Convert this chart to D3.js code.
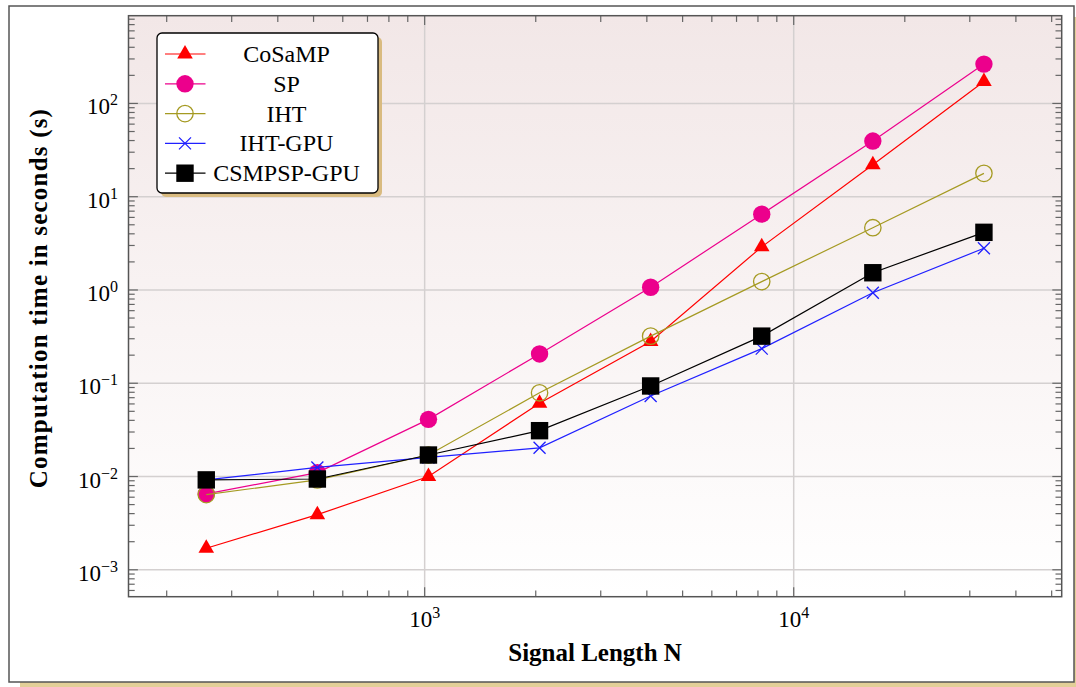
<!DOCTYPE html>
<html>
<head>
<meta charset="utf-8">
<script src="https://cdn.jsdelivr.net/npm/d3@7"></script>
<style>
  body { margin: 0; background: #fff; }
  svg { display: block; }
  text { font-family: "Liberation Serif", "DejaVu Serif", serif; fill: #000; }
</style>
</head>
<body>
<svg width="1076" height="687"></svg>
<script>
// Data
var signalLength = [256, 512, 1024, 2048, 4096, 8192, 16384, 32768];
var cosamp   = [1.7e-3, 3.9e-3, 1.0e-2, 0.061, 0.28, 2.9, 22, 172];
var sp       = [6.5e-3, 1.1e-2, 0.041, 0.206, 1.07, 6.5, 39.5, 264];
var iht      = [6.4e-3, 9.2e-3, 0.017, 0.079, 0.32, 1.23, 4.65, 17.8];
var ihtGpu   = [9.2e-3, 0.0125, 0.016, 0.0203, 0.073, 0.235, 0.935, 2.8];
var csmpspGpu = [9.2e-3, 9.4e-3, 0.017, 0.031, 0.0935, 0.32, 1.53, 4.15];

var seriesNames = ['CoSaMP', 'SP', 'IHT', 'IHT-GPU', 'CSMPSP-GPU'];
var seriesValues = [cosamp, sp, iht, ihtGpu, csmpspGpu];
var seriesColors = ['#ff0000', '#ec008c', '#a59a22', '#2020ff', '#000000'];
var seriesMarks = ['triangle', 'circle', 'ocircle', 'x', 'square'];

var xTickExp = [3, 4];
var yTickExp = [-3, -2, -1, 0, 1, 2];

const svg = d3.select('svg');

// plot box (note: "top" is taken by window.top)
var pLeft = 128.5, pRight = 1061.7, pTop = 15.7, pBottom = 596.7;

// pgfplots style 10% enlarge of limits (in log space)
function enlarged(vals) {
	var lo = Math.log10(d3.min(vals)), hi = Math.log10(d3.max(vals));
	var pad = (hi - lo) * 0.1;
	return [Math.pow(10, lo - pad), Math.pow(10, hi + pad)];
}
var allY = [].concat.apply([], seriesValues);

const xScale = d3.scaleLog().domain(enlarged(signalLength)).range([pLeft, pRight]);
const yScale = d3.scaleLog().domain(enlarged(allY)).range([pBottom, pTop]);

// outer frame with shadow
svg.append('rect').attr('x', 20).attr('y', 17).attr('width', 1066).attr('height', 670).style('fill', '#e3cf98');
svg.append('rect').attr('x', 9).attr('y', 6).attr('width', 1065).attr('height', 676)
	.style('fill', '#fff').style('stroke', '#555').style('stroke-width', 1.5);

// background gradient
var grad = svg.append('defs').append('linearGradient').attr('id', 'bg')
	.attr('x1', 0).attr('y1', 0).attr('x2', 0).attr('y2', 1);
grad.append('stop').attr('offset', '0%').attr('stop-color', '#f2e7e7');
grad.append('stop').attr('offset', '100%').attr('stop-color', '#ffffff');

svg.append('rect').attr('x', pLeft).attr('y', pTop).attr('width', pRight - pLeft).attr('height', pBottom - pTop)
	.style('fill', 'url(#bg)');

function isMajor(d) { return Math.abs(Math.log10(d) - Math.round(Math.log10(d))) < 1e-9; }

// grid
var xAll = xScale.ticks();
var yAll = yScale.ticks();
var xMajor = xAll.filter(isMajor);
var yMajor = yAll.filter(isMajor);

svg.selectAll('.xgrid').data(xMajor).enter().append('line')
	.attr('x1', d => xScale(d)).attr('x2', d => xScale(d)).attr('y1', pTop).attr('y2', pBottom)
	.style('stroke', '#d4d0d0').style('stroke-width', 1.5);
svg.selectAll('.ygrid').data(yMajor).enter().append('line')
	.attr('y1', d => yScale(d)).attr('y2', d => yScale(d)).attr('x1', pLeft).attr('x2', pRight)
	.style('stroke', '#d4d0d0').style('stroke-width', 1.5);

// ticks (inside, on all four sides)
var tickColor = '#666';
xAll.forEach(function(d) {
	var len = isMajor(d) ? 9.4 : 6.2;
	var x = xScale(d);
	svg.append('line').attr('x1', x).attr('x2', x).attr('y1', pBottom).attr('y2', pBottom - len)
		.style('stroke', tickColor).style('stroke-width', 1.2);
	svg.append('line').attr('x1', x).attr('x2', x).attr('y1', pTop).attr('y2', pTop + len)
		.style('stroke', tickColor).style('stroke-width', 1.2);
});
yAll.forEach(function(d) {
	var len = isMajor(d) ? 9.4 : 6.2;
	var y = yScale(d);
	svg.append('line').attr('y1', y).attr('y2', y).attr('x1', pLeft).attr('x2', pLeft + len)
		.style('stroke', tickColor).style('stroke-width', 1.2);
	svg.append('line').attr('y1', y).attr('y2', y).attr('x1', pRight).attr('x2', pRight - len)
		.style('stroke', tickColor).style('stroke-width', 1.2);
});

// axis box
svg.append('rect').attr('x', pLeft).attr('y', pTop).attr('width', pRight - pLeft).attr('height', pBottom - pTop)
	.style('fill', 'none').style('stroke', '#555').style('stroke-width', 1.5);

// tick labels
xTickExp.forEach(function(e) {
	var t = svg.append('text').attr('x', xScale(Math.pow(10, e))).attr('y', 627)
		.attr('text-anchor', 'middle').style('font-size', '23px');
	t.append('tspan').text('10');
	t.append('tspan').attr('dy', -9).style('font-size', '16px').text(e);
});
yTickExp.forEach(function(e) {
	var t = svg.append('text').attr('x', 118).attr('y', yScale(Math.pow(10, e)) + 11)
		.attr('text-anchor', 'end').style('font-size', '23px');
	t.append('tspan').text('10');
	t.append('tspan').attr('dy', -9).style('font-size', '16px').text(e < 0 ? '\u2212' + (-e) : e);
});

// axis labels
svg.append('text').attr('x', (pLeft + pRight) / 2).attr('y', 660.5).attr('text-anchor', 'middle')
	.style('font-size', '25px').style('font-weight', 'bold').text('Signal Length N');
svg.append('text').attr('transform', 'translate(47,298) rotate(-90)')
	.attr('text-anchor', 'middle').style('font-size', '25px').style('font-weight', 'bold')
	.style('letter-spacing', '1.2px')
	.text('Computation time in seconds (s)');

// markers
function drawMark(g, kind, color, x, y) {
	if (kind == 'triangle') {
		var r = 9;
		g.append('path').attr('d', 'M' + x + ',' + (y - r) + 'L' + (x + 0.866 * r) + ',' + (y + 0.5 * r) +
			'L' + (x - 0.866 * r) + ',' + (y + 0.5 * r) + 'Z').style('fill', color);
	} else if (kind == 'circle') {
		g.append('circle').attr('cx', x).attr('cy', y).attr('r', 8.7).style('fill', color);
	} else if (kind == 'ocircle') {
		g.append('circle').attr('cx', x).attr('cy', y).attr('r', 8.2).style('fill', 'none')
			.style('stroke', color).style('stroke-width', 1.3);
	} else if (kind == 'x') {
		var s = 6;
		g.append('path').attr('d', 'M' + (x - s) + ',' + (y - s) + 'L' + (x + s) + ',' + (y + s) +
			'M' + (x - s) + ',' + (y + s) + 'L' + (x + s) + ',' + (y - s))
			.style('stroke', color).style('stroke-width', 1.3).style('fill', 'none');
	} else if (kind == 'square') {
		g.append('rect').attr('x', x - 8.7).attr('y', y - 8.7).attr('width', 17.4).attr('height', 17.4)
			.style('fill', color);
	}
}

const line = d3.line().x(d => xScale(d[0])).y(d => yScale(d[1]));

seriesValues.forEach(function(vals, i) {
	var pts = signalLength.map((n, j) => [n, vals[j]]);
	var g = svg.append('g');
	g.append('path').datum(pts).attr('d', line)
		.style('fill', 'none').style('stroke', seriesColors[i]).style('stroke-width', 1.2);
	pts.forEach(p => drawMark(g, seriesMarks[i], seriesColors[i], xScale(p[0]), yScale(p[1])));
});

// legend
var lx = 157, ly = 33, lw = 221, lh = 160;
svg.append('rect').attr('x', lx + 4).attr('y', ly + 4).attr('width', lw).attr('height', lh).attr('rx', 5)
	.style('fill', '#d9bb80');
svg.append('rect').attr('x', lx).attr('y', ly).attr('width', lw).attr('height', lh).attr('rx', 5)
	.style('fill', '#fff').style('stroke', '#000').style('stroke-width', 1.3);

seriesNames.forEach(function(name, i) {
	var y = 54 + i * 29.8;
	var g = svg.append('g');
	g.append('line').attr('x1', 165).attr('x2', 205.5).attr('y1', y).attr('y2', y)
		.style('stroke', seriesColors[i]).style('stroke-width', 1.2);
	drawMark(g, seriesMarks[i], seriesColors[i], 185, y);
	g.append('text').attr('x', 286.5).attr('y', y + 8).attr('text-anchor', 'middle')
		.style('font-size', '24px').text(name);
});
</script>
</body>
</html>
